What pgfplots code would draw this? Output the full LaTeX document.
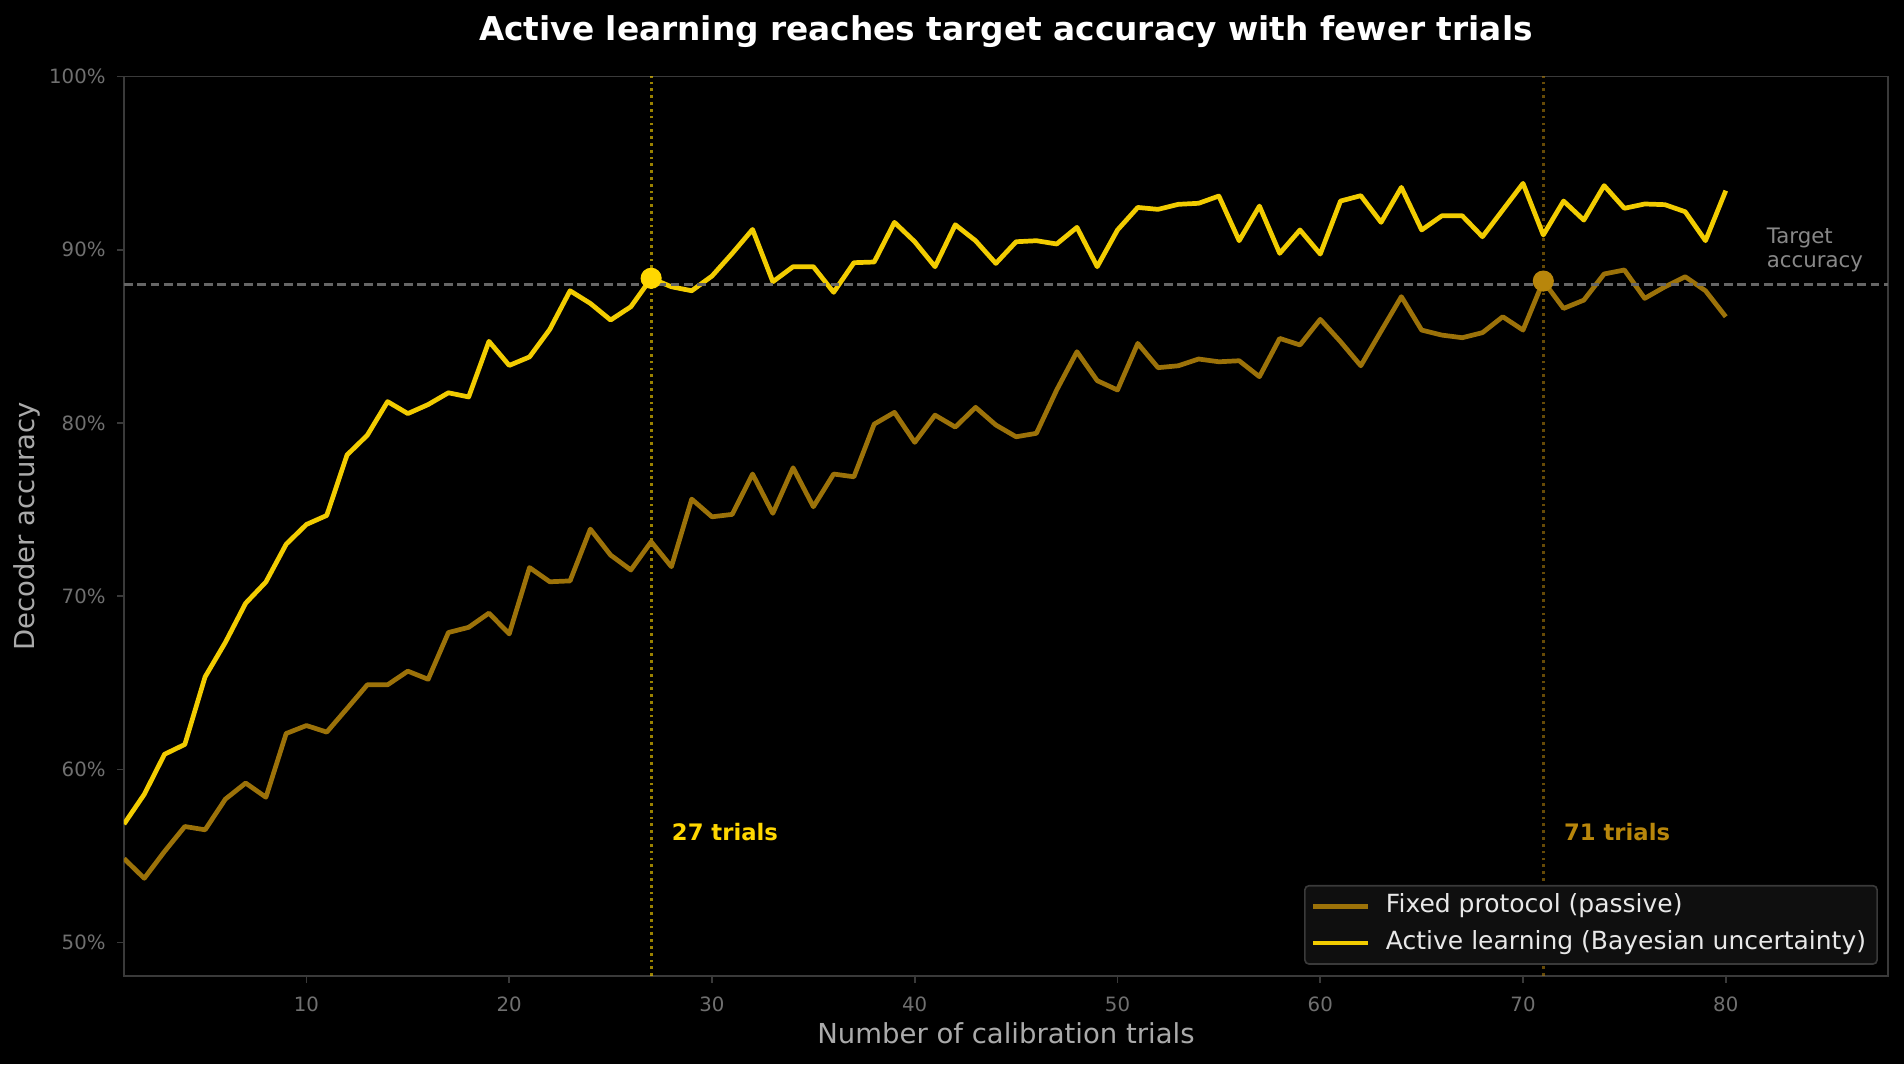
\documentclass[border=0pt]{standalone}
\usepackage{fontspec}
\setmainfont{DejaVu Sans}
\usepackage{pgfplots}
\usepackage{pgfplotstable}
\pgfplotsset{compat=1.18}
\definecolor{activec}{HTML}{F2CC00}
\definecolor{fixedc}{HTML}{9C7209}
\definecolor{goldc}{HTML}{FFD700}
\definecolor{dgold}{HTML}{B8860B}
\definecolor{spine}{HTML}{3A3A3A}
\definecolor{tickc}{HTML}{707070}
\definecolor{labc}{HTML}{AAAAAA}
\definecolor{refc}{HTML}{666666}
\definecolor{legbg}{HTML}{0F0F0F}
\definecolor{legtext}{HTML}{E8E8E8}
\definecolor{targc}{HTML}{888888}

\pgfplotstableread{
t a f
1 56.84 54.85
2 58.56 53.71
3 60.87 55.26
4 61.44 56.70
5 65.34 56.51
6 67.33 58.28
7 69.59 59.21
8 70.82 58.39
9 73.00 62.07
10 74.14 62.53
11 74.66 62.15
12 78.15 63.51
13 79.29 64.88
14 81.23 64.88
15 80.54 65.67
16 81.06 65.20
17 81.74 67.90
18 81.50 68.20
19 84.71 69.02
20 83.32 67.82
21 83.81 71.65
22 85.40 70.83
23 87.63 70.88
24 86.90 73.87
25 85.94 72.37
26 86.71 71.51
27 88.35 73.14
28 87.86 71.70
29 87.63 75.60
30 88.48 74.58
31 89.79 74.72
32 91.17 77.05
33 88.15 74.78
34 89.02 77.41
35 89.02 75.16
36 87.54 77.05
37 89.25 76.89
38 89.29 79.93
39 91.58 80.61
40 90.46 78.88
41 89.02 80.45
42 91.44 79.76
43 90.52 80.90
44 89.21 79.88
45 90.46 79.20
46 90.52 79.40
47 90.33 81.90
48 91.29 84.11
49 89.02 82.44
50 91.14 81.90
51 92.44 84.59
52 92.33 83.19
53 92.62 83.30
54 92.68 83.69
55 93.10 83.53
56 90.52 83.59
57 92.52 82.67
58 89.79 84.88
59 91.14 84.50
60 89.75 85.98
61 92.81 84.69
62 93.12 83.30
63 91.58 85.30
64 93.60 87.29
65 91.14 85.36
66 91.96 85.07
67 91.96 84.92
68 90.75 85.21
69 92.29 86.13
70 93.83 85.36
71 90.85 88.19
72 92.81 86.61
73 91.71 87.09
74 93.70 88.60
75 92.39 88.83
76 92.64 87.19
77 92.60 87.86
78 92.19 88.44
79 90.52 87.63
80 93.41 86.13
}\data

\begin{document}
\begin{tikzpicture}
\useasboundingbox (-44.64pt,-31.68pt) rectangle (640.8pt,351.36pt);
\fill[black] (-44.64pt,-31.68pt) rectangle (640.8pt,351.36pt);
\begin{axis}[
  at={(0pt,0pt)}, anchor=south west,
  scale only axis, width=635.04pt, height=323.82pt,
  xmin=1, xmax=88, ymin=48.07, ymax=100,
  xtick={10,20,...,80},
  ytick={50,60,...,100},
  yticklabels={50\%,60\%,70\%,80\%,90\%,100\%},
  /pgf/number format/assume math mode=true,
  axis background/.style={fill=black},
  axis line style={draw=spine, line width=0.6pt},
  tick align=outside,
  xtick pos=left, ytick pos=left,
  major tick length=2.5pt,
  tick style={draw=spine, line width=0.6pt},
  tick label style={font=\fontsize{7.1}{8.5}\selectfont, text=tickc},
  x tick label style={yshift=-1.5pt},
  y tick label style={xshift=-0.6pt},
  title={Active learning reaches target accuracy with fewer trials},
  title style={at={(axis description cs:0.5,1.0312)}, anchor=center, yshift=0pt,
    font=\fontsize{11.8}{14}\selectfont\bfseries, text=white},
  xlabel={Number of calibration trials},
  x label style={at={(axis description cs:0.5,-0.0633)}, anchor=center,
    font=\fontsize{9.9}{11}\selectfont, text=labc},
  ylabel={Decoder accuracy},
  y label style={at={(axis description cs:-0.0551,0.5)}, anchor=center,
    font=\fontsize{9.9}{11}\selectfont, text=labc},
  legend cell align=left,
  legend style={at={(1,0)}, anchor=south east, xshift=-3.6pt, yshift=4pt,
    fill=legbg, draw=spine, line width=0.6pt, rounded corners=1.5pt,
    text=legtext, font=\fontsize{9.0}{10}\selectfont,
    inner xsep=2pt, inner ysep=1pt, row sep=0pt,
    /tikz/every odd column/.append style={column sep=3.5pt},
    nodes={text height=6.5pt, text depth=2.2pt, inner ysep=2.2pt}},
  legend image code/.code={\draw[#1] (0pt,0pt) -- (20pt,0pt);},
]
% vertical reference lines
\addplot[forget plot, goldc, opacity=0.6, line width=1pt, dash pattern=on 1pt off 1.45pt]
  coordinates {(27,48.07) (27,100)};
\addplot[forget plot, dgold, opacity=0.55, line width=1pt, dash pattern=on 1pt off 1.45pt]
  coordinates {(71,48.07) (71,100)};
% series
\addplot[fixedc, line width=1.7pt, line join=round] table[x=t, y=f] {\data};
\addlegendentry{Fixed protocol (passive)}
\addplot[activec, line width=1.7pt, line join=round] table[x=t, y=a] {\data};
\addlegendentry{Active learning (Bayesian uncertainty)}
% target line
\addplot[forget plot, refc, line width=1pt, dash pattern=on 3.1pt off 1.7pt]
  coordinates {(1,88) (88,88)};
% markers
\addplot[forget plot, only marks, mark=*, mark size=3.6pt, goldc, mark options={draw=goldc, fill=goldc}]
  coordinates {(27,88.35)};
\addplot[forget plot, only marks, mark=*, mark size=3.6pt, dgold, mark options={draw=dgold, fill=dgold}]
  coordinates {(71,88.19)};
% annotations
\node[anchor=west, inner sep=0pt, text=goldc, font=\fontsize{8.17}{9}\selectfont\bfseries]
  at (axis cs:28,56.4) {27 trials};
\node[anchor=west, inner sep=0pt, text=dgold, font=\fontsize{8.17}{9}\selectfont\bfseries]
  at (axis cs:72,56.4) {71 trials};
\node[anchor=west, inner sep=0pt, align=left, text=targc, font=\fontsize{7.67}{8.6}\selectfont]
  at (axis cs:82,90) {Target\\accuracy};
\end{axis}
\end{tikzpicture}
\end{document}
